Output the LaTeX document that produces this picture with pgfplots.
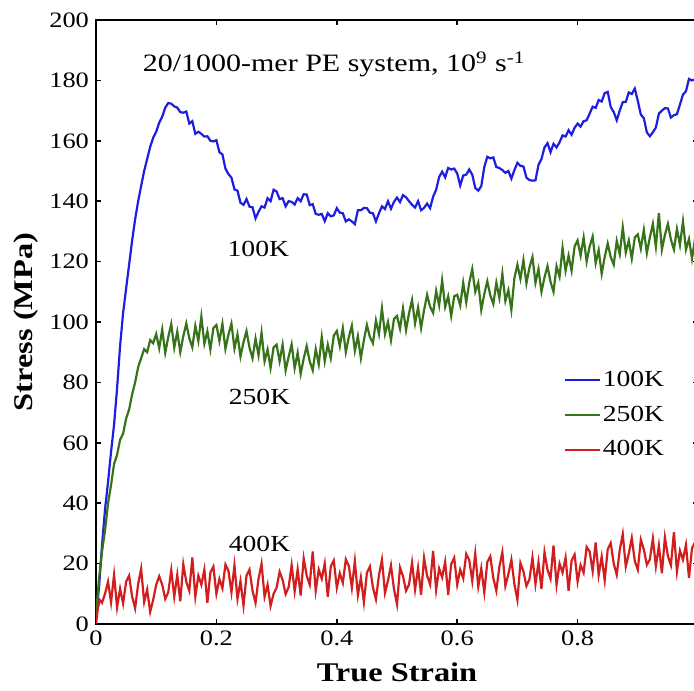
\documentclass[border=0pt]{standalone}
\usepackage{fontspec}
\setmainfont{Liberation Serif}[FakeStretch=1.2]
\usepackage{pgfplots}
\pgfplotsset{compat=1.18}
\definecolor{c100}{RGB}{30,30,225}
\definecolor{c250}{RGB}{55,115,25}
\definecolor{c400}{RGB}{210,30,30}

\begin{document}
\begin{tikzpicture}
\begin{axis}[
    name=ax,
    scale only axis,
    width=301pt, height=302pt,
    xmin=0, xmax=1, ymin=0, ymax=200,
    xtick={0,0.2,0.4,0.6,0.8,1},
    xticklabels={0,0.2,0.4,0.6,0.8,{}},
    ytick={0,20,...,200},
    tick align=inside,
    major tick length=2.5pt,
    axis line style={line width=0.8pt},
    tick style={black, line width=0.8pt},
    tick label style={font=\fontsize{11}{13}\selectfont},
    /pgf/number format/assume math mode=true,
    xlabel={True Strain},
    ylabel={Stress (MPa)},
    label style={font=\fontsize{13.5}{15}\selectfont\bfseries},
    xlabel style={at={(axis description cs:0.5,-0.08)}, anchor=center},
    ylabel style={at={(axis description cs:-0.117,0.5)}, anchor=center, rotate=0},
    legend style={draw=none, fill=none, at={(0.776,0.423)}, anchor=north west,
        inner sep=0pt, row sep=6.3pt, font=\fontsize{11.5}{13}\selectfont,
        nodes={inner sep=1pt}},
    legend cell align=left,
    legend image code/.code={\draw[#1] (0pt,0pt) -- (17.5pt,0pt);},
]

\addplot[c100, line width=1.1pt] coordinates {
(0,3) (0.005,12) (0.01,26) (0.015,38) (0.02,47) (0.025,57) (0.03,66) (0.035,78) (0.04,92) (0.045,103)
(0.05,111) (0.055,119) (0.06,127) (0.065,134) (0.07,140) (0.075,145) (0.08,150) (0.085,154) (0.09,158) (0.095,161)
(0.1,163) (0.105,166) (0.11,168) (0.115,171) (0.12,172.5)
(0.125,172.3) (0.13,171.4) (0.135,171) (0.14,169.5) (0.145,169.3) (0.15,169.7) (0.155,165.7) (0.16,166.5) (0.165,162.3) (0.17,163)
(0.175,162.3) (0.18,161.4) (0.185,161.5) (0.19,160) (0.195,159.8) (0.2,160.2) (0.205,156.2) (0.21,155.5) (0.215,150.8) (0.22,149)
(0.225,147.8) (0.23,143.9) (0.235,143.5) (0.24,139.5) (0.245,138.8) (0.25,140.7) (0.255,138.2) (0.26,138) (0.265,134.3) (0.27,136.5)
(0.275,138.3) (0.28,137.9) (0.285,141) (0.29,140) (0.295,143.8) (0.3,143.2) (0.305,140.7) (0.31,141) (0.315,138.3) (0.32,140)
(0.325,139.8) (0.33,138.9) (0.335,141) (0.34,140) (0.345,142.3) (0.35,142.2) (0.355,138.7) (0.36,139) (0.365,135.8) (0.37,135.5)
(0.375,135.8) (0.38,133.4) (0.385,136) (0.39,135) (0.395,135.3) (0.4,137.7) (0.405,136.2) (0.41,136) (0.415,133.3) (0.42,134)
(0.425,133.3) (0.43,132.4) (0.435,137) (0.44,137) (0.445,137.8) (0.45,137.7) (0.455,136.2) (0.46,136) (0.465,133.3) (0.47,136)
(0.475,138.3) (0.48,137.4) (0.485,140) (0.49,137.5) (0.495,139.8) (0.5,141.2) (0.505,139.7) (0.51,142) (0.515,141.3) (0.52,140)
(0.525,138.8) (0.53,137.9) (0.535,140) (0.54,137) (0.545,137.8) (0.55,139.2) (0.555,137.7) (0.56,141.5) (0.565,143.8) (0.57,148)
(0.575,149.8) (0.58,147.9) (0.585,151) (0.59,150.5) (0.595,150.8) (0.6,149.2) (0.605,145.2) (0.61,148.5) (0.615,148.8) (0.62,150.5)
(0.625,148.8) (0.63,144.4) (0.635,143.5) (0.64,145) (0.645,151.3) (0.65,154.7) (0.655,154.2) (0.66,154.5) (0.665,151.3) (0.67,151)
(0.675,150.3) (0.68,149.4) (0.685,150) (0.69,147.5) (0.695,150.3) (0.7,152.7) (0.705,151.7) (0.71,151.5) (0.715,147.8) (0.72,147)
(0.725,146.8) (0.73,146.9) (0.735,152) (0.74,154) (0.745,157.8) (0.75,159.2) (0.755,156.2) (0.76,159) (0.765,157.8) (0.77,159.5)
(0.775,161.8) (0.78,161.4) (0.785,163.5) (0.79,162) (0.795,164.3) (0.8,165.7) (0.805,164.7) (0.81,166.5) (0.815,166.8) (0.82,169)
(0.825,171.3) (0.83,170.9) (0.835,173.5) (0.84,173) (0.845,175.8) (0.85,176.2) (0.855,171.2) (0.86,169.5) (0.865,166.8) (0.87,170)
(0.875,172.8) (0.88,172.9) (0.885,176) (0.89,175.5) (0.895,177.3) (0.9,173.2) (0.905,168.7) (0.91,167.5) (0.915,162.8) (0.92,161.5)
(0.925,162.8) (0.93,164.4) (0.935,169) (0.94,170) (0.945,170.8) (0.95,170.7) (0.955,167.7) (0.96,168.5) (0.965,168.8) (0.97,172)
(0.975,175.3) (0.98,176.4) (0.985,180.5) (0.99,180) (0.995,180.3)
};
\addlegendentry{100K}

\addplot[c250, line width=1.1pt] coordinates {
(0,3) (0.005,15) (0.01,24) (0.015,31) (0.02,40) (0.025,46) (0.03,53) (0.035,56) (0.04,61) (0.045,63)
(0.05,68) (0.055,71) (0.06,76) (0.065,80) (0.07,85) (0.075,88) (0.08,91) (0.085,90) (0.09,94) (0.095,93)
(0.1,96) (0.105,91.3) (0.11,97.5) (0.115,89.8) (0.12,95) (0.125,99.3) (0.13,91.5) (0.135,96.8) (0.14,90) (0.145,95.3)
(0.15,99.5) (0.155,94.6) (0.16,91.6) (0.165,98.7) (0.17,93.7) (0.175,101.8) (0.18,92.8) (0.185,96.9) (0.19,90.9) (0.195,98)
(0.2,99) (0.205,93.7) (0.21,99.4) (0.215,91.1) (0.22,95.8) (0.225,99.5) (0.23,91.2) (0.235,95.9) (0.24,88.6) (0.245,93.3)
(0.25,97) (0.255,91.5) (0.26,88) (0.265,94.5) (0.27,89) (0.275,96.5) (0.28,87) (0.285,90.9) (0.29,84.8) (0.295,91.6)
(0.3,92.5) (0.305,87) (0.31,92.5) (0.315,84) (0.32,88.5) (0.325,92.6) (0.33,84.7) (0.335,89.8) (0.34,82.8) (0.345,87.9)
(0.35,92) (0.355,87) (0.36,84) (0.365,91) (0.37,86) (0.375,95) (0.38,87) (0.385,92.5) (0.39,88) (0.395,95.5)
(0.4,97) (0.405,92) (0.41,98) (0.415,90) (0.42,95) (0.425,98.8) (0.43,90.5) (0.435,95.3) (0.44,88) (0.445,94)
(0.45,99) (0.455,95) (0.46,93) (0.465,100.5) (0.47,96) (0.475,104.5) (0.48,96) (0.485,100) (0.49,94) (0.495,101)
(0.5,102) (0.505,97.8) (0.51,104.5) (0.515,97.3) (0.52,103) (0.525,107.3) (0.53,99.5) (0.535,104.8) (0.54,98) (0.545,104)
(0.55,109) (0.555,105) (0.56,103) (0.565,110.3) (0.57,105.5) (0.575,113.8) (0.58,105) (0.585,108.5) (0.59,102) (0.595,108.5)
(0.6,109) (0.605,105.5) (0.61,113) (0.615,106.5) (0.62,113) (0.625,117.5) (0.63,110) (0.635,113) (0.64,104) (0.645,109.3)
(0.65,113.5) (0.655,108.8) (0.66,106) (0.665,113) (0.67,108) (0.675,116) (0.68,107) (0.685,110.5) (0.69,104) (0.695,114.5)
(0.7,119) (0.705,114.3) (0.71,120.5) (0.715,112.8) (0.72,118) (0.725,121.5) (0.73,113) (0.735,117.5) (0.74,110) (0.745,114.8)
(0.75,118.5) (0.755,113.3) (0.76,110) (0.765,118.5) (0.77,115) (0.775,124.5) (0.78,117) (0.785,122) (0.79,117) (0.795,125)
(0.8,127) (0.805,122) (0.81,128) (0.815,120) (0.82,125) (0.825,128.3) (0.83,119.5) (0.835,123.8) (0.84,116) (0.845,121.5)
(0.85,126) (0.855,121.5) (0.86,119) (0.865,126.8) (0.87,122.5) (0.875,131.3) (0.88,123) (0.885,127) (0.89,121) (0.895,128)
(0.9,129) (0.905,124.3) (0.91,130.5) (0.915,122.8) (0.92,128) (0.925,132.5) (0.93,125) (0.935,136) (0.94,124) (0.945,128.8)
(0.95,132.5) (0.955,127.3) (0.96,124) (0.965,130.8) (0.97,125.5) (0.975,133.3) (0.98,124) (0.985,127.5) (0.99,121) (0.995,127.5)
};
\addlegendentry{250K}

\addplot[c400, line width=1.1pt] coordinates {
(0,0) (0.003,5) (0.006,8) (0.01,7) (0.015,10)
(0.02,14) (0.025,7.2) (0.03,16.3) (0.035,5.5) (0.04,11.7) (0.045,6.8) (0.05,14) (0.055,16) (0.06,9.1) (0.065,5.2)
(0.07,13.2) (0.075,18.3) (0.08,7.3) (0.085,11.4) (0.09,4) (0.095,8) (0.1,13) (0.105,15.8) (0.11,13) (0.115,8.3)
(0.12,10.5) (0.125,17.8) (0.13,9) (0.135,16.3) (0.14,7.5) (0.145,19.8) (0.15,14) (0.155,11) (0.16,22) (0.165,9)
(0.17,16) (0.175,13) (0.18,18) (0.185,7) (0.19,17) (0.195,19) (0.2,10) (0.205,14.9) (0.21,11.8) (0.215,19.7)
(0.22,17.6) (0.225,10.5) (0.23,19.4) (0.235,8.3) (0.24,14.2) (0.245,6.1) (0.25,16) (0.255,18) (0.26,11) (0.265,7)
(0.27,15) (0.275,20) (0.28,9) (0.285,13) (0.29,6) (0.295,10) (0.3,12) (0.305,17.3) (0.31,14.6) (0.315,9.9)
(0.32,12.2) (0.325,19.5) (0.33,10.8) (0.335,18.1) (0.34,9.4) (0.345,21.7) (0.35,16) (0.355,13) (0.36,24) (0.365,11)
(0.37,18) (0.375,15) (0.38,20) (0.385,9) (0.39,19) (0.395,21) (0.4,12) (0.405,16.8) (0.41,13.6) (0.415,21.4)
(0.42,19.2) (0.425,12) (0.43,20.8) (0.435,9.6) (0.44,15.4) (0.445,7.2) (0.45,17) (0.455,19) (0.46,12.1) (0.465,8.2)
(0.47,16.2) (0.475,21.3) (0.48,10.3) (0.485,14.4) (0.49,19.4) (0.495,11.5) (0.5,6.5) (0.505,18.7) (0.51,15.8) (0.515,11)
(0.52,13.1) (0.525,20.3) (0.53,11.4) (0.535,18.6) (0.54,9.7) (0.545,21.9) (0.55,16) (0.555,13.1) (0.56,24.2) (0.565,11.3)
(0.57,18.4) (0.575,15.5) (0.58,20.6) (0.585,9.7) (0.59,19.8) (0.595,21.9) (0.6,13) (0.605,18) (0.61,15.1) (0.615,23.2)
(0.62,21.2) (0.625,14.3) (0.63,23.3) (0.635,12.4) (0.64,18.4) (0.645,10.5) (0.65,20.5) (0.655,22.4) (0.66,15.2) (0.665,11)
(0.67,18.9) (0.675,23.8) (0.68,12.6) (0.685,16.5) (0.69,21.3) (0.695,13.2) (0.7,8) (0.705,20.2) (0.71,17.4) (0.715,12.6)
(0.72,14.8) (0.725,22) (0.73,13.2) (0.735,20.4) (0.74,11.6) (0.745,23.8) (0.75,18) (0.755,15) (0.76,26) (0.765,13)
(0.77,20) (0.775,17) (0.78,22) (0.785,11) (0.79,21) (0.795,23) (0.8,14) (0.805,19.5) (0.81,17) (0.815,25.5)
(0.82,24) (0.825,17.5) (0.83,27) (0.835,16.2) (0.84,22.3) (0.845,14.5) (0.85,24.7) (0.855,26.8) (0.86,20) (0.865,16.3)
(0.87,24.5) (0.875,29.8) (0.88,19) (0.885,23.3) (0.89,28.5) (0.895,20.8) (0.9,18) (0.905,27.9) (0.91,24.7) (0.915,19.6)
(0.92,21.4) (0.925,28.3) (0.93,19.1) (0.935,26) (0.94,16.8) (0.945,28.7) (0.95,22.5) (0.955,19.5) (0.96,30.4) (0.965,17.4)
(0.97,24.3) (0.975,21.3) (0.98,26.2) (0.985,15.2) (0.99,25.1) (0.995,27)
};
\addlegendentry{400K}

\node[anchor=base west, font=\fontsize{12.5}{14}\selectfont] at (axis cs:0.066,182.8)
    {20/1000-mer PE system, 10\textsuperscript{9} s\textsuperscript{-1}};
\node[anchor=base west, font=\fontsize{11.5}{13}\selectfont] at (axis cs:0.207,121.6) {100K};
\node[anchor=base west, font=\fontsize{11.5}{13}\selectfont] at (axis cs:0.209,72.6) {250K};
\node[anchor=base west, font=\fontsize{11.5}{13}\selectfont] at (axis cs:0.209,24) {400K};
\end{axis}
\pgfresetboundingbox
\path ([shift={(-48pt,-33.25pt)}]ax.south west) rectangle ([shift={(299pt,10pt)}]ax.north west);
\end{tikzpicture}
\end{document}
